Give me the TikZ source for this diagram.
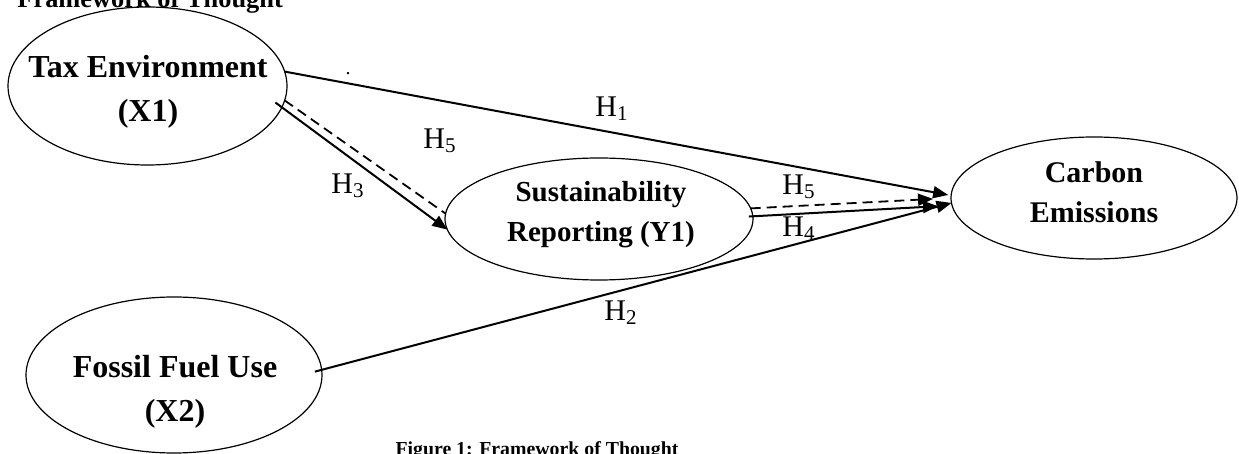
\documentclass[tikz,border=0pt]{standalone}
\usepackage{fontspec}
\setmainfont{Liberation Serif}
\usetikzlibrary{shapes.geometric,arrows.meta}

\newcommand{\hlab}[1]{H\textsubscript{#1}}

\begin{document}
\begin{tikzpicture}[
    x=0.5pt, y=-0.5pt,
    every node/.style={inner sep=0pt},
    construct/.style={draw, ellipse, line width=0.6pt, outer sep=0pt},
    bigtext/.style={align=center, font=\bfseries\fontsize{16}{22}\selectfont},
    hyp/.style={font=\fontsize{15}{18}\selectfont},
    link/.style={line width=1pt, -{Triangle[length=7.5pt,width=6pt]}},
    dashlink/.style={line width=0.9pt, dash pattern=on 5pt off 3pt}
]
\useasboundingbox (0,0) rectangle (1239,454);

% Title and caption
\node[anchor=base west, font=\bfseries\fontsize{13.2}{16}\selectfont] (head) at (17,8) {Framework of Thought};
\node[anchor=base, font=\bfseries\fontsize{9.9}{12}\selectfont] (caption) at (537,456) {Figure 1: Framework of Thought};

% Constructs
\node[construct, minimum width=139.5pt, minimum height=79pt] (tax) at (147.5,86) {};
\node[construct, minimum width=148pt, minimum height=78pt] (fossil) at (174,375) {};
\node[construct, minimum width=154pt, minimum height=61pt] (sust) at (599,219) {};
\node[construct, minimum width=143pt, minimum height=61pt] (carbon) at (1094,198) {};

\node[bigtext] (taxtxt) at (148,92) {Tax Environment\\(X1)};
\node[bigtext] (fossiltxt) at (175,392) {Fossil Fuel Use\\(X2)};
\node[bigtext, font=\bfseries\fontsize{14.5}{20}\selectfont] (susttxt) at (601,215) {Sustainability\\Reporting (Y1)};
\node[bigtext, font=\bfseries\fontsize{15}{20}\selectfont] (carbontxt) at (1094,192) {Carbon\\Emissions};
\node[font=\fontsize{10}{12}\selectfont] (dot) at (348,74) {.};

% Paths
\draw[link, shorten >=1.5pt] (tax.6) -- (carbon.179.5);
\draw[link, shorten <=-4pt] (tax.-9) -- (sust.184);
\draw[dashlink] (tax.-6.5) -- (sust.178.5);
\draw[dashlink, -{Triangle[length=7.5pt,width=6pt]}, shorten >=9pt] (sust.4) -- (carbon.180);
\draw[link, shorten <=-2pt, shorten >=7pt] (sust.1) -- (carbon.183);
\draw[link, shorten <=-3.5pt] (fossil.2) -- (carbon.182.5);

% Hypothesis labels
\node[hyp] (h1) at (612,109) {\hlab{1}};
\node[hyp] (h5a) at (440,141) {\hlab{5}};
\node[hyp] (h3) at (348,186) {\hlab{3}};
\node[hyp] (h5b) at (799,187) {\hlab{5}};
\node[hyp] (h4) at (799,229) {\hlab{4}};
\node[hyp] (h2) at (621,313) {\hlab{2}};
\end{tikzpicture}
\end{document}
